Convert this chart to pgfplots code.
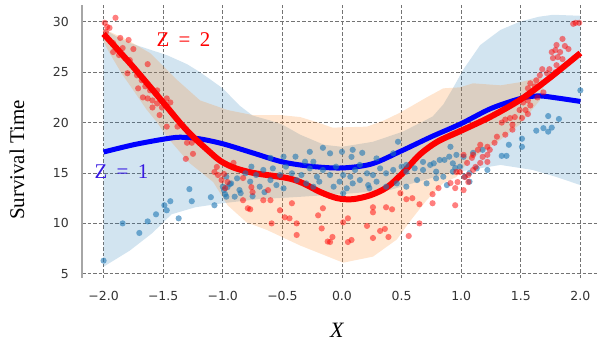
\documentclass[border=0pt]{standalone}
\usepackage{pgfplots}
\pgfplotsset{compat=1.18}
\usepackage{fontspec}
\setmainfont{DejaVu Sans}
\newfontfamily\lserif{Liberation Serif}
\definecolor{tabblue}{HTML}{1F77B4}
\definecolor{taborange}{HTML}{FF7F0E}
\definecolor{zone}{RGB}{55,25,225}
\begin{document}
\begin{tikzpicture}[x=1bp,y=1bp]
\useasboundingbox (0,0) rectangle (598,341);
\begin{axis}[
  at={(82bp,63bp)}, anchor=south west,
  scale only axis, width=516bp, height=273bp,
  xmin=-2.181, xmax=2.148, ymin=4.58, ymax=31.67,
  separate axis lines,
  axis x line*=bottom, axis y line*=left,
  x axis line style={draw=none},
  y axis line style={draw=black!35, line width=1.1bp},
  xtick={-2,-1.5,-1,-0.5,0,0.5,1,1.5,2},
  xticklabels={−2.0,−1.5,−1.0,−0.5,0.0,0.5,1.0,1.5,2.0},
  ytick={5,10,15,20,25,30},
  yticklabels={5,10,15,20,25,30},
  tick style={draw=none},
  xticklabel style={anchor=center, inner sep=0pt, yshift=-18bp, font=\fontsize{12.5}{14}\selectfont, text=black!80},
  yticklabel style={anchor=east, inner sep=0pt, xshift=-13bp, font=\fontsize{12.5}{14}\selectfont, text=black!80},
  grid=major,
  major grid style={draw=black!55, line width=0.8bp, dash pattern=on 3.5bp off 2bp},
  xlabel={X}, ylabel={Survival Time},
  every axis x label/.style={at={(rel axis cs:0.494,-0.19)}, anchor=center, font=\lserif\itshape\fontsize{22}{24}\selectfont},
  every axis y label/.style={at={(rel axis cs:-0.126,0.432)}, anchor=center, rotate=90, font=\lserif\fontsize{21}{24}\selectfont},
]
% blue band
\addplot[draw=none, fill=tabblue, fill opacity=0.2] coordinates {
(-2.0,29.3) (-1.9,28.6) (-1.78,27.9) (-1.6,27.2) (-1.47,26.7) (-1.3,25.8) (-1.19,25.0) (-1.0,23.4) (-0.86,21.7) (-0.75,20.7) (-0.6,20.2) (-0.5,19.8) (-0.35,18.8) (-0.15,17.8) (0.0,17.6) (0.26,18.1) (0.51,19.1) (0.76,20.6) (0.85,21.8) (0.93,23.4) (1.02,25.3) (1.16,27.7) (1.33,29.2) (1.49,30.0) (1.65,30.5) (1.77,30.7) (2.0,30.6)
(2.0,13.8) (1.8,14.6) (1.6,15.3) (1.33,15.8) (1.07,15.3) (0.9,15.0) (0.6,14.0) (0.4,13.3) (0.0,12.9) (-0.4,12.6) (-0.7,12.4) (-1.0,12.0) (-1.23,11.6) (-1.43,10.9) (-1.59,9.05) (-1.78,7.3) (-2.0,5.7)
} -- cycle;
% orange band
\addplot[draw=none, fill=taborange, fill opacity=0.2] coordinates {
(-2.0,29.3) (-1.8,28.2) (-1.61,26.9) (-1.38,24.2) (-1.19,22.2) (-0.96,21.25) (-0.75,20.75) (-0.52,20.75) (-0.35,20.55) (-0.2,20.0) (-0.08,19.5) (0.21,19.6) (0.35,20.2) (0.49,21.0) (0.71,22.5) (0.85,23.4) (0.99,23.5) (1.10,23.9) (1.33,23.7) (1.49,24.0) (1.66,24.5) (1.7,24.0)
(1.66,22.2) (1.49,19.8) (1.33,18.3) (1.07,16.3) (0.96,14.6) (0.85,14.0) (0.71,12.3) (0.57,10.2) (0.46,8.4) (0.26,6.7) (0.01,6.1) (-0.35,7.8) (-0.63,9.35) (-0.80,10.1) (-0.96,11.8) (-1.08,14.1) (-1.28,16.0) (-1.47,18.6) (-1.55,20.0) (-1.64,21.3) (-1.75,23.2) (-1.85,24.9) (-1.95,26.9) (-2.0,28.0)
} -- cycle;
% blue scatter
\addplot[only marks, mark=*, mark size=3.1bp, mark options={draw=tabblue, fill=tabblue, draw opacity=0, fill opacity=0.6}] coordinates {
(-2.0,6.3) (-1.84,10.0) (-1.70,9.05) (-1.63,10.2) (-1.56,10.9) (-1.49,11.8) (-1.47,11.3) (-1.44,12.2) (-1.37,10.5) (-1.28,13.4) (-1.26,12.2) (-1.10,12.6) (-1.07,11.8) (-0.99,13.3) (-0.96,13.6) (-0.94,13.9) (-0.98,12.9)
(-0.49,16.62) (-0.39,16.62) (-0.31,16.12) (-0.24,16.12) (-0.10,16.95) (0.0,17.1) (0.08,16.6) (0.29,16.45) (0.43,16.95) (0.54,15.8) (0.68,16.1) (0.77,15.96) (0.82,16.29) (0.90,16.62) (0.93,15.96) (0.99,15.63)
(-0.97,14.63) (-0.88,14.47) (-0.81,14.97) (-0.76,15.63) (-0.72,14.8) (-0.66,15.3) (-0.58,15.46) (-0.52,14.8) (-0.47,15.63) (-0.42,14.97) (-0.34,14.8) (-0.27,15.46) (-0.21,14.63) (-0.16,15.3) (-0.10,14.8) (-0.05,15.63) (0.01,14.8) (0.07,14.63) (0.11,15.3) (0.15,15.8) (0.21,14.97) (0.26,14.8) (0.32,15.46) (0.37,14.97) (0.43,15.3) (0.50,15.63) (0.54,15.13) (0.61,15.46) (0.68,15.3) (0.74,15.8) (0.79,15.13) (0.85,14.63) (0.93,15.13) (1.03,14.63) (1.07,14.14) (1.13,15.46)
(-1.00,13.64) (-0.93,13.97) (-0.86,13.31) (-0.77,14.14) (-0.69,13.64) (-0.60,14.3) (-0.55,13.8) (-0.49,13.48) (-0.38,14.3) (-0.30,13.97) (-0.24,13.64) (-0.19,14.14) (-0.07,13.64) (-0.02,14.14) (0.04,13.48) (0.09,13.97) (0.15,14.3) (0.22,13.8) (0.29,14.14) (0.37,13.64) (0.46,13.97) (0.54,13.64) (0.63,14.3) (0.71,13.97) (0.79,14.47) (0.88,13.8)
(-0.97,12.65) (-0.90,12.65) (0.01,12.98) (0.23,13.5) (-0.85,13.0) (-0.75,12.7) (-0.65,13.1)
(-0.16,17.5) (-0.27,17.1) (-0.60,16.5) (0.09,17.3) (0.17,17.0) (0.47,18.1)
(2.0,23.2) (1.73,20.65) (1.82,20.36) (1.63,19.2) (1.69,19.45) (1.73,19.1) (1.76,19.5) (1.51,18.4) (1.51,17.6) (1.40,17.8) (1.38,16.7) (1.34,16.7) (1.10,17.0) (1.18,17.3) (1.22,15.3) (0.91,17.6) (0.96,16.8) (0.86,16.3) (1.02,16.6) (1.07,15.0) (0.95,15.5)
};
% red scatter
\addplot[only marks, mark=*, mark size=3.1bp, mark options={draw=red, fill=red, draw opacity=0, fill opacity=0.5}] coordinates {
(-1.90,30.4) (-1.99,29.9) (-1.97,29.5) (-1.95,29.4) (-1.98,29.0) (-1.86,28.4) (-1.79,28.2) (-1.92,27.9) (-1.84,27.4) (-1.92,27.0) (-1.87,26.7) (-1.75,27.3) (-1.82,26.4) (-1.78,26.2) (-1.63,25.8) (-1.80,24.9) (-1.72,24.7) (-1.68,24.2) (-1.65,23.6) (-1.71,23.4) (-1.61,23.2) (-1.55,23.2) (-1.67,22.5) (-1.63,22.4) (-1.59,22.2) (-1.55,21.9) (-1.59,21.5) (-1.51,21.5) (-1.47,22.4) (-1.44,22.0) (-1.53,20.75) (-1.47,19.6) (-1.38,19.6) (-1.26,18.0) (-1.25,16.9) (-1.30,18.0) (-1.31,16.4) (-1.07,15.1) (-1.04,14.8) (-1.01,14.3) (-0.96,14.1) (-1.05,15.6) (-0.99,14.9)
(-0.91,16.0) (-0.98,13.5) (-0.83,14.5) (-0.76,13.6) (-0.75,13.1) (-0.79,11.5) (-0.66,12.3) (-0.62,13.3) (-0.60,12.3) (-0.52,11.3) (-0.48,10.6) (-0.44,10.5) (-0.42,12.0) (-0.59,10.0) (-0.38,10.0) (-0.38,8.85) (-0.16,11.5) (-0.17,9.5) (-0.12,8.2) (-0.08,8.65) (0.05,10.5) (-0.83,12.3) (-0.77,11.4) (-0.20,10.8) (-0.10,8.15) (0.01,10.1) (0.05,8.15) (0.08,8.35) (0.21,9.75) (0.26,11.6) (0.26,11.1) (0.26,8.55) (0.32,9.25) (0.36,9.45) (0.37,11.6) (0.39,8.65) (0.42,11.4) (0.49,13.0) (0.54,12.4) (0.56,8.75) (0.59,12.5) (0.65,11.9) (0.65,10.0) (0.76,12.9) (0.76,12.0) (0.95,11.8) (0.95,13.5) (0.97,14.1) (1.02,13.3) (1.03,14.6) (0.99,15.1) (1.06,14.1) (1.02,16.8) (1.10,16.8) (1.05,16.0) (0.81,13.5) (0.91,14.0) (0.96,15.1) (1.06,14.8)
(1.96,29.9) (1.99,29.9) (1.94,29.8) (1.85,28.3) (1.80,27.7) (1.87,27.6) (1.90,27.3) (1.79,27.2) (1.83,27.0) (1.76,27.0) (1.81,26.5) (1.85,26.3) (1.77,26.4) (1.80,25.7) (1.74,25.3) (1.79,25.0) (1.72,24.9) (1.68,25.3) (1.66,24.7) (1.63,24.2) (1.58,23.9) (1.62,23.6) (1.56,23.4) (1.69,23.0) (1.64,22.5) (1.56,22.2) (1.52,22.0) (1.58,21.7) (1.54,21.25) (1.49,21.25) (1.56,20.85) (1.45,20.55) (1.51,20.45) (1.41,20.45) (1.37,20.3) (1.34,20.0) (1.43,19.8) (1.43,19.3) (1.37,18.8) (1.30,18.6) (1.28,18.0) (1.22,17.6) (1.24,17.3) (1.16,17.8) (1.14,17.3) (1.18,16.6) (1.22,16.8) (1.22,16.1) (1.16,16.0) (1.09,16.5) (1.12,15.6) (1.10,15.3)
};
% lines
\addplot[smooth, line width=5bp, color=blue] coordinates {
(-2,17.08) (-1.75,17.8) (-1.5,18.35) (-1.36,18.55) (-1.2,18.4) (-1.0,17.9) (-0.75,17.0) (-0.5,16.1) (-0.25,15.65) (0,15.5) (0.25,15.9) (0.5,17.2) (0.75,18.6) (1.0,19.9) (1.25,21.4) (1.5,22.4) (1.65,22.65) (1.8,22.45) (2.0,22.1)
};
\addplot[smooth, line width=6bp, color=red] coordinates {
(-2,28.8) (-1.75,25.5) (-1.5,22.0) (-1.36,20.0) (-1.25,18.6) (-1.13,17.3) (-1.02,16.2) (-0.9,15.5) (-0.74,15.0) (-0.46,14.5) (-0.33,14.0) (-0.18,13.1) (-0.04,12.5) (0.09,12.4) (0.24,12.8) (0.38,13.6) (0.51,15.0) (0.65,16.8) (0.8,18.1) (1.0,19.2) (1.25,20.6) (1.5,22.3) (1.75,24.5) (2.0,26.9)
};
\node[text=red, font=\lserif\fontsize{21}{21}\selectfont] at (axis cs:-1.33,28.2) {Z\hspace{0.45em}=\hspace{0.45em}2};
\node[text=zone, font=\lserif\fontsize{21}{21}\selectfont] at (axis cs:-1.85,15.1) {Z\hspace{0.45em}=\hspace{0.45em}1};
\end{axis}
\end{tikzpicture}
\end{document}
